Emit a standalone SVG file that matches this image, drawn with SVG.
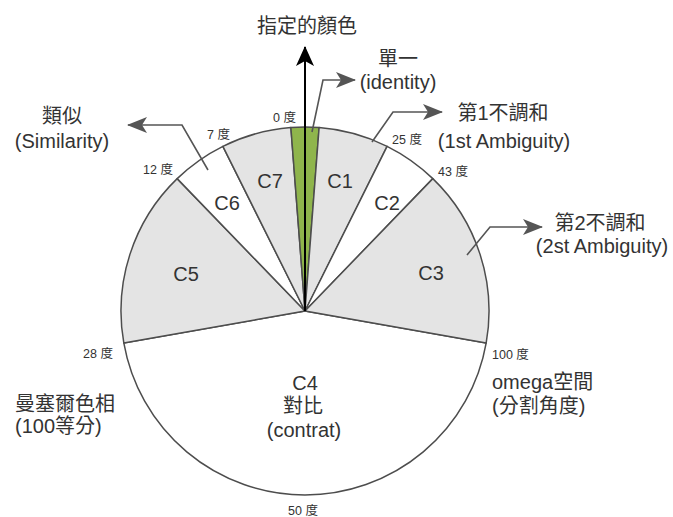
<svg xmlns="http://www.w3.org/2000/svg" width="673" height="517" viewBox="0 0 673 517">
<style>
text{font-family:"Liberation Sans","Noto Sans CJK TC",sans-serif;fill:#333}
.lbl{font-size:20px;text-anchor:middle}
.side{font-size:20px}
.deg{font-size:12.5px}
.s{stroke:#4d4d4d;stroke-width:1.5;stroke-linejoin:round}
.g{fill:#e4e4e4}
.w{fill:#ffffff}
.conn{fill:none;stroke:#555;stroke-width:1.6}
</style>
<defs>
<marker id="ah" viewBox="0 0 20 16" refX="19" refY="8" markerWidth="20" markerHeight="16" markerUnits="userSpaceOnUse" orient="auto">
<path d="M0,0 L20,8 L0,16 L5,8 Z" fill="#555"/>
</marker>
<marker id="ahb" viewBox="0 0 20 18" refX="19" refY="9" markerWidth="20" markerHeight="18" markerUnits="userSpaceOnUse" orient="auto">
<path d="M0,0 L20,9 L0,18 L5,9 Z" fill="#000"/>
</marker>
</defs>
<rect width="673" height="517" fill="#ffffff"/>
<g id="pie">
<g id="C4"><path class="s w" d="M305,311 L486.2,342.95 A184,184 0 0 1 123.8,342.95 Z"/>
<text class="lbl" x="305" y="390">C4</text>
<text class="lbl" x="303" y="413">對比</text>
<text class="lbl" x="304" y="437">(contrat)</text></g>
<g id="C5"><path class="s g" d="M305,311 L123.8,342.95 A184,184 0 0 1 177.18,178.64 Z"/>
<text class="lbl" x="186" y="281">C5</text></g>
<g id="C6"><path class="s w" d="M305,311 L177.18,178.64 A184,184 0 0 1 222.9,146.33 Z"/>
<text class="lbl" x="227" y="210">C6</text></g>
<g id="C7"><path class="s g" d="M305,311 L222.9,146.33 A184,184 0 0 1 290.88,127.54 Z"/>
<text class="lbl" x="270" y="188">C7</text></g>
<g id="identity"><path class="s" fill="#8fb54c" d="M305,311 L290.88,127.54 A184,184 0 0 1 319.12,127.54 Z"/></g>
<g id="C1"><path class="s g" d="M305,311 L319.12,127.54 A184,184 0 0 1 387.1,146.33 Z"/>
<text class="lbl" x="340" y="188">C1</text></g>
<g id="C2"><path class="s w" d="M305,311 L387.1,146.33 A184,184 0 0 1 432.82,178.64 Z"/>
<text class="lbl" x="387" y="210">C2</text></g>
<g id="C3"><path class="s g" d="M305,311 L432.82,178.64 A184,184 0 0 1 486.2,342.95 Z"/>
<text class="lbl" x="431" y="280">C3</text></g>
</g>
<g id="connectors">
<path class="conn" d="M312,132 L323,80 L355,80" marker-end="url(#ah)"/>
<path class="conn" d="M372,142 L393,112 L442,112" marker-end="url(#ah)"/>
<path class="conn" d="M467,255 L490,227 L542,227" marker-end="url(#ah)"/>
<path class="conn" d="M208,170 L182,125 L128,125" marker-end="url(#ah)"/>
<path d="M305,311 L305,47" fill="none" stroke="#000" stroke-width="2" marker-end="url(#ahb)"/>
</g>
<g id="degrees">
<text class="deg" x="273" y="122">0 度</text>
<text class="deg" x="207" y="139">7 度</text>
<text class="deg" x="143" y="174">12 度</text>
<text class="deg" x="83" y="358">28 度</text>
<text class="deg" x="288" y="515">50 度</text>
<text class="deg" x="492" y="359">100 度</text>
<text class="deg" x="438" y="176">43 度</text>
<text class="deg" x="392" y="144">25 度</text>
</g>
<g id="label-title"><text class="lbl" x="307" y="33">指定的顏色</text></g>
<g id="label-identity"><text class="lbl" x="398" y="66">單一</text><text class="lbl" x="398" y="89">(identity)</text></g>
<g id="label-amb1"><text class="lbl" x="503" y="120">第1不調和</text><text class="lbl" x="504" y="148">(1st Ambiguity)</text></g>
<g id="label-amb2"><text class="lbl" x="600" y="230">第2不調和</text><text class="lbl" x="602" y="253">(2st Ambiguity)</text></g>
<g id="label-similarity"><text class="lbl" x="62" y="123">類似</text><text class="lbl" x="62" y="148">(Similarity)</text></g>
<g id="label-munsell"><text class="side" x="15" y="411">曼塞爾色相</text><text class="side" x="15" y="433">(100等分)</text></g>
<g id="label-omega"><text class="side" x="492" y="389">omega空間</text><text class="side" x="492" y="413">(分割角度)</text></g>
</svg>
